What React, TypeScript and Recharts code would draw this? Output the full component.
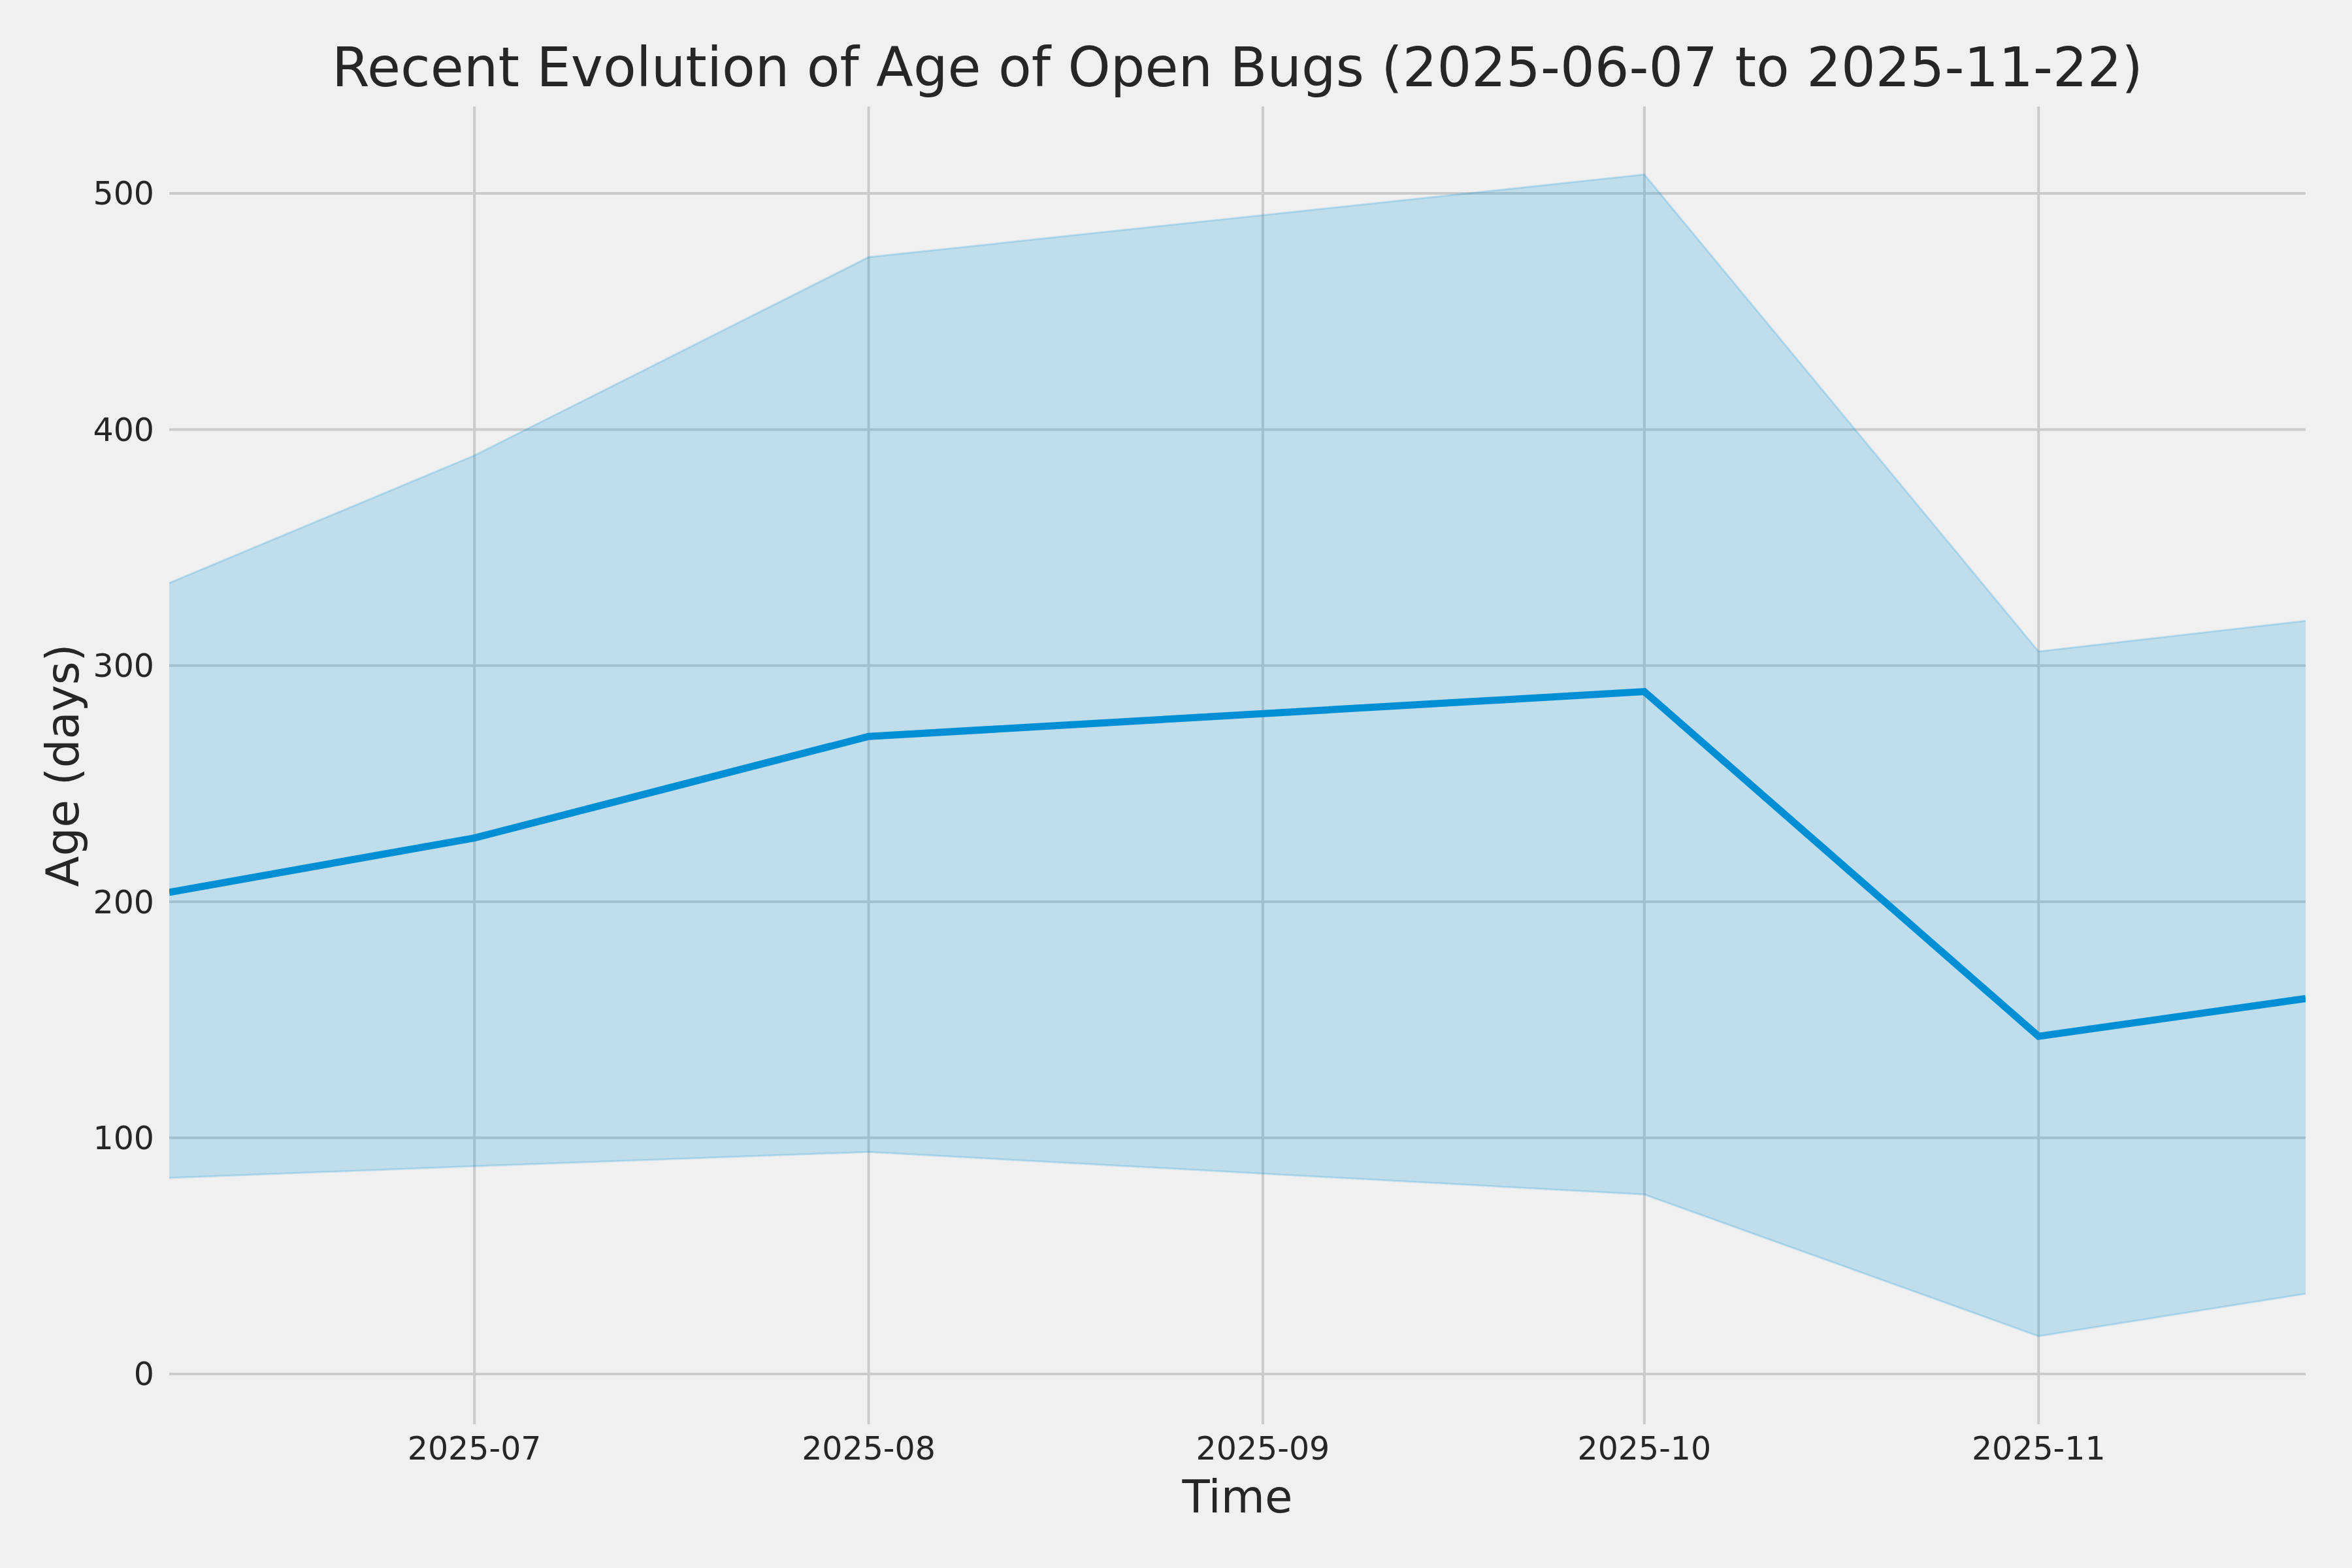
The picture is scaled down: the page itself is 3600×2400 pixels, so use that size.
import React from "react"
import { Area, CartesianGrid, ComposedChart, Line, XAxis, YAxis } from "recharts"

const dates = ["2025-06-07", "2025-07-01", "2025-08-01", "2025-10-01", "2025-11-01", "2025-11-22"]
const meanAge = [204, 227, 270, 289, 143, 159]
const upperAge = [335, 389, 473, 508, 306, 319]
const lowerAge = [83, 88, 94, 76, 16, 34]
const monthTicks = ["2025-07-01", "2025-08-01", "2025-09-01", "2025-10-01", "2025-11-01"]
const ageTicks = [0, 100, 200, 300, 400, 500]

const toTs = (d: string) => Date.parse(d + "T00:00:00Z")

const data = dates.map((d, i) => ({
  t: toTs(d),
  mean: meanAge[i],
  range: [lowerAge[i], upperAge[i]],
}))

const font = "'DejaVu Sans', sans-serif"
const ink = "#262626"
const blue = "#008fd5"

export default function App() {
  return (
    <div style={{ position: "relative", width: 3600, height: 2400, background: "#f0f0f0", fontFamily: font }}>
      <style>{`body{margin:0;background:#f0f0f0}`}</style>
      <ComposedChart
        width={3600}
        height={2400}
        data={data}
        margin={{ top: 163, right: 71, bottom: 160, left: 159 }}
      >
        <CartesianGrid stroke="#cbcbcb" strokeWidth={4} syncWithTicks />
        <XAxis
          dataKey="t"
          type="number"
          domain={[toTs(dates[0]), toTs(dates[dates.length - 1])]}
          ticks={monthTicks.map(toTs)}
          tickFormatter={(v) => new Date(v).toISOString().slice(0, 7)}
          allowDataOverflow
          axisLine={false}
          tickLine={false}
          tickSize={0}
          tickMargin={19}
          height={60}
          tick={{ fill: ink, fontSize: 49, fontFamily: font }}
        />
        <YAxis
          type="number"
          domain={[-21.3, 536.8]}
          ticks={ageTicks}
          allowDataOverflow
          axisLine={false}
          tickLine={false}
          tickSize={0}
          tickMargin={23}
          width={100}
          tick={{ fill: ink, fontSize: 49, fontFamily: font }}
        />
        <Area
          dataKey="range"
          type="linear"
          fill={blue}
          fillOpacity={0.2}
          stroke={blue}
          strokeOpacity={0.2}
          strokeWidth={3}
          isAnimationActive={false}
        />
        <Line
          dataKey="mean"
          type="linear"
          stroke={blue}
          strokeWidth={11}
          dot={false}
          activeDot={false}
          isAnimationActive={false}
        />
      </ComposedChart>
      <div
        style={{
          position: "absolute",
          left: 1894,
          top: 62,
          transform: "translateX(-50%)",
          fontSize: 83,
          lineHeight: 1,
          color: ink,
          whiteSpace: "nowrap",
        }}
      >
        Recent Evolution of Age of Open Bugs (2025-06-07 to 2025-11-22)
      </div>
      <div
        style={{
          position: "absolute",
          left: 1894,
          top: 2257,
          transform: "translateX(-50%)",
          fontSize: 69,
          lineHeight: 1,
          color: ink,
          whiteSpace: "nowrap",
        }}
      >
        Time
      </div>
      <div
        style={{
          position: "absolute",
          left: 96 - 300,
          top: 1171 - 34.5,
          width: 600,
          height: 69,
          fontSize: 69,
          lineHeight: "69px",
          color: ink,
          textAlign: "center",
          transform: "rotate(-90deg)",
          whiteSpace: "nowrap",
        }}
      >
        Age (days)
      </div>
    </div>
  )
}
